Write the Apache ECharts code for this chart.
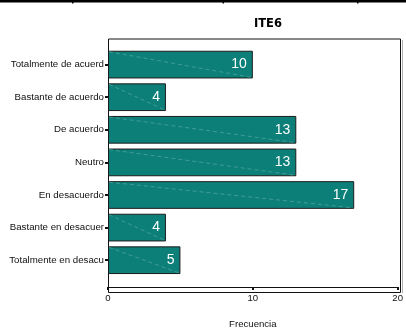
<!DOCTYPE html>
<html>
<head>
<meta charset="utf-8">
<script src="https://cdn.jsdelivr.net/npm/echarts@6/dist/echarts.min.js"></script>
<style>
  html, body { margin: 0; padding: 0; background: #fff; }
  #chart { width: 406px; height: 334px; }
</style>
</head>
<body>
<div id="chart"></div>
<script>
// Response categories, top to bottom
const categories = [
  'Totalmente de acuerd',
  'Bastante de acuerdo',
  'De acuerdo',
  'Neutro',
  'En desacuerdo',
  'Bastante en desacuer',
  'Totalmente en desacu'
];
// Frequency for each category
const frequencies = [10, 4, 13, 13, 17, 4, 5];
// X axis range and step
const xMin = 0;
const xMax = 20;
const xStep = 10;

const barColor = '#0d7f79';
const font = 'Liberation Sans, Arial, sans-serif';
const gapRatio = 0.15;

const chart = echarts.init(document.getElementById('chart'), null, { renderer: 'canvas' });

chart.setOption({
  animation: false,
  backgroundColor: '#fff',
  grid: { left: 108, right: 5.3, top: 48.3, bottom: 52.3, containLabel: false },
  xAxis: {
    type: 'value',
    min: xMin,
    max: xMax,
    interval: xStep,
    offset: 10.5,
    name: 'Frecuencia',
    nameLocation: 'middle',
    nameGap: 32,
    nameTextStyle: { fontFamily: font, fontSize: 9.6, color: '#111' },
    axisLine: { show: true, lineStyle: { color: '#111', width: 1 } },
    axisTick: { show: true, length: 3, lineStyle: { color: '#111', width: 2 } },
    axisLabel: { fontFamily: font, fontSize: 9.6, color: '#111', margin: 6 },
    splitLine: { show: false }
  },
  yAxis: {
    type: 'category',
    data: categories,
    inverse: true,
    axisLine: { show: true, lineStyle: { color: '#111', width: 1 } },
    axisTick: { show: true, alignWithLabel: true, length: 3, lineStyle: { color: '#111', width: 2 } },
    axisLabel: { fontFamily: font, fontSize: 9.7, color: '#111', margin: 4 }
  },
  series: [
    {
      type: 'bar',
      data: frequencies,
      barCategoryGap: (gapRatio * 100) + '%',
      itemStyle: { color: barColor, borderColor: '#1c1c1c', borderWidth: 1 },
      label: {
        show: true,
        position: 'insideRight',
        distance: 6,
        color: '#fff',
        fontFamily: font,
        fontSize: 14
      },
      z: 2
    },
    {
      // light dashed diagonal across each bar
      type: 'custom',
      data: frequencies.map((v, i) => [v, i]),
      encode: { x: 0, y: 1 },
      silent: true,
      z: 3,
      renderItem: function (params, api) {
        const v = api.value(0);
        const idx = api.value(1);
        const start = api.coord([0, idx]);
        const end = api.coord([v, idx]);
        const h = api.size([0, 1])[1] * (1 - gapRatio);
        return {
          type: 'line',
          shape: {
            x1: start[0] + 1, y1: start[1] - h / 2 + 1,
            x2: end[0] - 1, y2: end[1] + h / 2 - 1
          },
          style: { stroke: '#55a8a1', lineWidth: 0.7, lineDash: [4, 3] }
        };
      }
    }
  ],
  graphic: [
    {
      type: 'text',
      left: 254,
      top: 18,
      style: {
        text: 'ITE6',
        fontFamily: 'DejaVu Sans, sans-serif',
        fontWeight: 'bold',
        fontSize: 11.5,
        fill: '#000',
        textAlign: 'center',
        textVerticalAlign: 'middle'
      }
    },
    {
      type: 'rect',
      shape: { x: 108.5, y: 39, width: 292, height: 253.5 },
      style: { fill: null, stroke: '#111', lineWidth: 1 },
      z: 0
    },
    {
      type: 'line',
      shape: { x1: 402.5, y1: 40, x2: 402.5, y2: 293 },
      style: { stroke: '#b0b0b0', lineWidth: 1 }
    },
    {
      type: 'rect',
      shape: { x: 0, y: 0, width: 406, height: 2.5 },
      style: { fill: '#000' }
    },
    { type: 'rect', shape: { x: 72, y: 0, width: 1.5, height: 3.5 }, style: { fill: '#000' } },
    { type: 'rect', shape: { x: 222.5, y: 0, width: 1.5, height: 3.5 }, style: { fill: '#000' } },
    { type: 'rect', shape: { x: 357, y: 0, width: 1.5, height: 3.5 }, style: { fill: '#000' } }
  ]
});
</script>
</body>
</html>
